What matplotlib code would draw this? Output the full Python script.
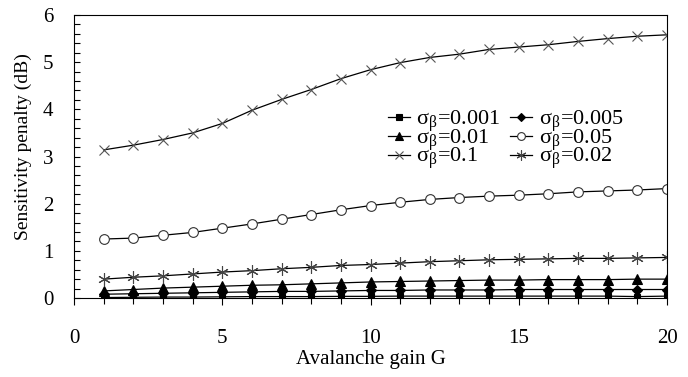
import numpy as np
import matplotlib.pyplot as plt
from matplotlib.ticker import MultipleLocator

plt.rcParams['font.family'] = ['Liberation Serif', 'DejaVu Serif']
plt.rcParams['mathtext.fontset'] = 'stix'

# ── data ─────────────────────────────────────────────────────────────────────
gain = np.arange(1, 21)

pen_0001 = [0.01, 0.015, 0.02, 0.02, 0.025, 0.03, 0.03, 0.03, 0.035, 0.035,
            0.04, 0.04, 0.04, 0.04, 0.04, 0.04, 0.04, 0.04, 0.03, 0.04]
pen_0005 = [0.08, 0.09, 0.10, 0.11, 0.12, 0.13, 0.14, 0.14, 0.15, 0.16,
            0.16, 0.17, 0.17, 0.17, 0.18, 0.18, 0.18, 0.18, 0.18, 0.18]
pen_001 = [0.15, 0.18, 0.21, 0.23, 0.25, 0.27, 0.28, 0.30, 0.32, 0.34,
           0.35, 0.36, 0.37, 0.38, 0.38, 0.39, 0.39, 0.39, 0.40, 0.40]
pen_005 = [1.25, 1.27, 1.33, 1.39, 1.48, 1.57, 1.67, 1.77, 1.87, 1.96,
           2.03, 2.09, 2.13, 2.16, 2.18, 2.21, 2.25, 2.27, 2.29, 2.32]
pen_01 = [3.14, 3.24, 3.36, 3.50, 3.70, 3.98, 4.21, 4.42, 4.65, 4.84,
          4.99, 5.10, 5.17, 5.27, 5.32, 5.37, 5.44, 5.50, 5.55, 5.58]
pen_002 = [0.40, 0.44, 0.47, 0.51, 0.55, 0.58, 0.62, 0.65, 0.69, 0.71,
           0.74, 0.77, 0.79, 0.81, 0.82, 0.83, 0.84, 0.84, 0.85, 0.86]

labels = ['0.001', '0.005', '0.01', '0.05', '0.1', '0.02']
series = [pen_0001, pen_0005, pen_001, pen_005, pen_01, pen_002]
markers = ['s', 'D', '^', 'o', 'x', (6, 2, 0)]
fills = ['black', 'black', 'black', 'white', 'none', 'none']
msizes = [5, 5, 7, 7, 7, 9]
mecols = ['black', 'black', 'black', '#333333', '#555555', '#444444']

# ── plot ─────────────────────────────────────────────────────────────────────
fig = plt.figure(figsize=(6.88, 3.77), dpi=100)
ax = fig.add_axes([74 / 688, 1 - 298 / 377, 593 / 688, 283 / 377])

handles = []
for y, lab, m, fc, ms, mc in zip(series, labels, markers, fills, msizes, mecols):
    h, = ax.plot(gain, y, color='black', lw=0.9, marker=m, markersize=ms,
                 markerfacecolor=fc, markeredgecolor=mc, markeredgewidth=0.8,
                 label=r'σ$_{\mathregular{β}}$=' + lab)
    handles.append(h)

ax.set_xlim(0, 20)
ax.set_ylim(0, 6)
ax.xaxis.set_major_locator(MultipleLocator(5))
ax.xaxis.set_minor_locator(MultipleLocator(1))
ax.yaxis.set_major_locator(MultipleLocator(1))
ax.yaxis.set_minor_locator(MultipleLocator(0.2))
ax.tick_params(axis='y', which='both', direction='in', length=4, width=0.8,
               labelsize=15, pad=15)
ax.tick_params(axis='x', which='major', direction='out', length=5, width=0.8,
               labelsize=15, pad=17)
ax.tick_params(axis='x', which='minor', direction='out', length=4, width=0.8)
for s in ax.spines.values():
    s.set_linewidth(0.8)

ax.set_xlabel('Avalanche gain G', fontsize=15, labelpad=2)
ax.set_ylabel('Sensitivity penalty (dB)', fontsize=14)
ax.yaxis.set_label_coords(-0.07, 0.535)

# legend is filled row by row in the reference
order = [0, 2, 4, 1, 3, 5]
leg = ax.legend([handles[i] for i in order],
                [handles[i].get_label() for i in order],
                ncol=2, loc='upper left', bbox_to_anchor=(0.51, 0.71),
                frameon=False, fontsize=16, handlelength=1.0, handletextpad=0.3,
                labelspacing=-0.3, columnspacing=0.4, borderpad=0,
                markerscale=0.8)

fig.savefig('out.png', dpi=100)
